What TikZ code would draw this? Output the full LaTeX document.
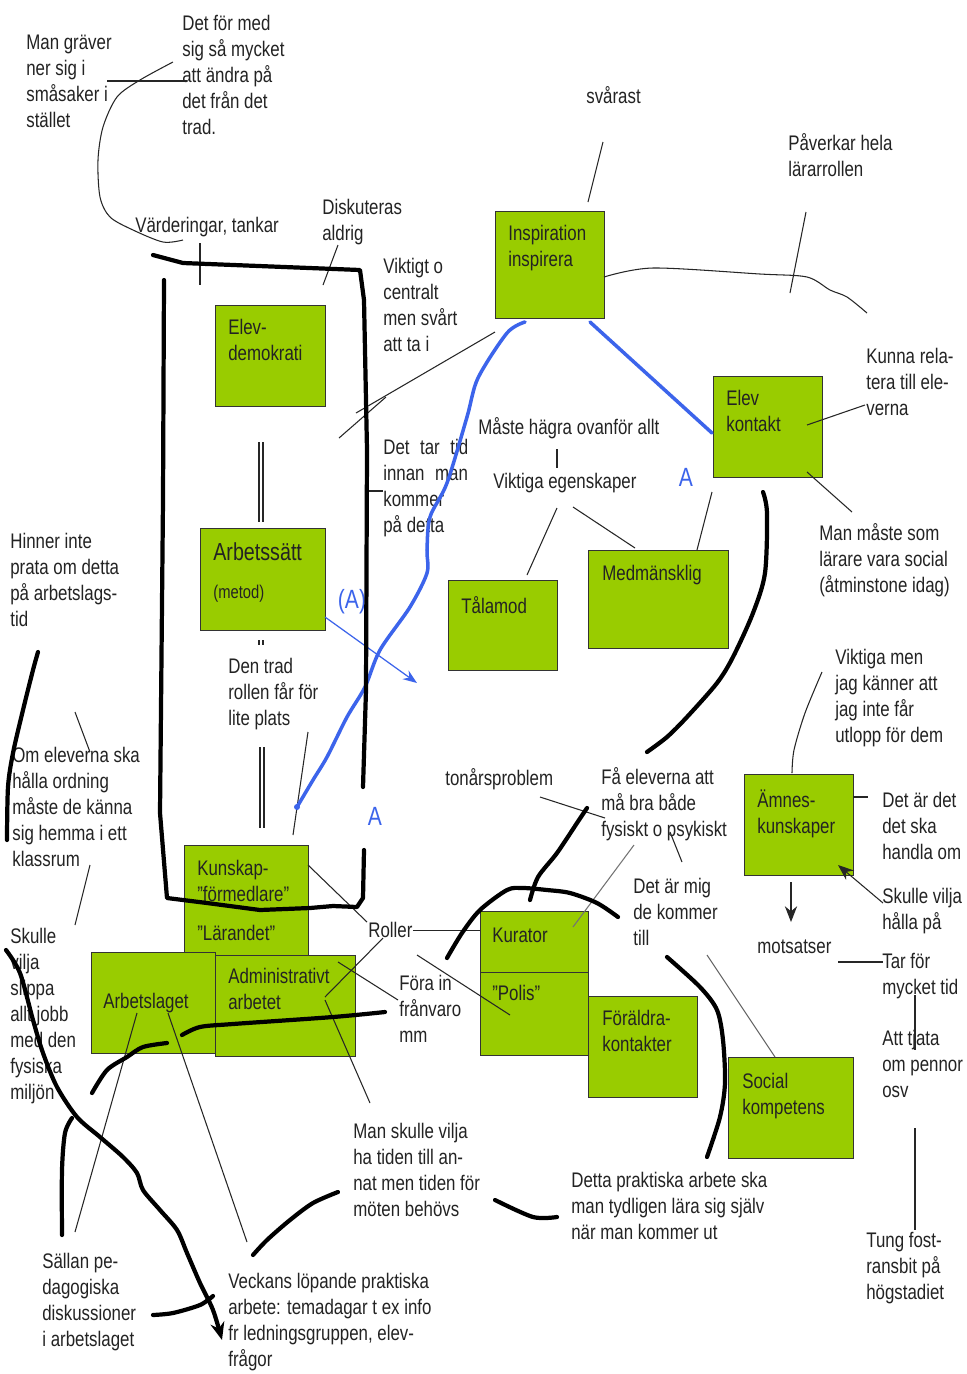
\documentclass[tikz,border=0pt]{standalone}
\usepackage{fontspec}
\setmainfont{Liberation Sans}[FakeStretch=0.8]
\usetikzlibrary{positioning, arrows.meta}

\definecolor{boxgreen}{RGB}{153,204,0}
\definecolor{penblue}{RGB}{60,100,235}
\definecolor{inkgray}{RGB}{35,35,35}
\newcommand{\lblfont}{\fontsize{12}{14.8}\selectfont}

\begin{document}
\begin{tikzpicture}[
    x=0.02cm, y=-0.02cm,
    gbox/.style={draw=black!80, fill=boxgreen, line width=0.6pt,
        anchor=north west, inner sep=0pt},
    note/.style={anchor=north west, inner sep=0pt, align=left,
        font=\lblfont, text=inkgray},
    bigA/.style={inner sep=0pt, text=penblue,
        font=\fontsize{15}{18}\selectfont},
    twig/.style={line width=0.6pt, draw=black!85},
    inkpen/.style={line width=2.4pt, draw=black, line cap=round, line join=round},
    bluepen/.style={line width=2pt, draw=penblue, line cap=round, line join=round}
]
\fill[white] (0,0) rectangle (967,1374);
\useasboundingbox (0,0) rectangle (967,1374);

% green boxes
\node[gbox, minimum width=2.2cm, minimum height=2.02cm] (elevdemo) at (215,305) {};
\node[gbox, minimum width=2.5cm, minimum height=2.04cm] (arbsatt) at (200,528) {};
\node[gbox, minimum width=2.18cm, minimum height=2.14cm] (inspir) at (495,211) {};
\node[gbox, minimum width=2.18cm, minimum height=2.02cm] (elevkon) at (713,376) {};
\node[gbox, minimum width=2.18cm, minimum height=1.8cm] (talamod) at (448,580) {};
\node[gbox, minimum width=2.8cm, minimum height=1.96cm] (medman) at (588,550) {};
\node[gbox, minimum width=2.18cm, minimum height=2.02cm] (amnes) at (744,774) {};
\node[gbox, minimum width=2.48cm, minimum height=2.2cm] (kunskap) at (184,845) {};
\node[gbox, minimum width=2.48cm, minimum height=2.02cm] (arblag) at (91,952) {};
\node[gbox, minimum width=2.8cm, minimum height=2.02cm] (admin) at (215,955) {};
\node[gbox, minimum width=2.16cm, minimum height=1.22cm] (kurator) at (480,911) {};
\node[gbox, minimum width=2.16cm, minimum height=1.66cm] (polis) at (480,972) {};
\node[gbox, minimum width=2.18cm, minimum height=2.02cm] (foralder) at (588,996) {};
\node[gbox, minimum width=2.5cm, minimum height=2.02cm] (social) at (728,1057) {};

% box texts
\node[note] (elevdemo-t) at ([shift={(13,14)}]elevdemo.north west) {Elev-\\demokrati};
\node[note, font=\fontsize{14}{17}\selectfont] (arbsatt-t) at ([shift={(13,14)}]arbsatt.north west) {Arbetssätt};
\node[note, font=\fontsize{10.5}{13}\selectfont] (metod-t) at ([shift={(13,57)}]arbsatt.north west) {(metod)};
\node[note] (inspir-t) at ([shift={(13,14)}]inspir.north west) {Inspiration\\inspirera};
\node[note] (elevkon-t) at ([shift={(13,14)}]elevkon.north west) {Elev\\kontakt};
\node[note] (talamod-t) at ([shift={(13,16)}]talamod.north west) {Tålamod};
\node[note] (medman-t) at ([shift={(14,15)}]medman.north west) {Medmänsklig};
\node[note] (amnes-t) at ([shift={(13,15)}]amnes.north west) {Ämnes-\\kunskaper};
\node[note] (kunskap-t) at ([shift={(13,15)}]kunskap.north west) {Kunskap-\\”förmedlare”};
\node[note] (larandet-t) at ([shift={(13,80)}]kunskap.north west) {”Lärandet”};
\node[note] (arblag-t) at ([shift={(12,41)}]arblag.north west) {Arbetslaget};
\node[note] (admin-t) at ([shift={(13,13)}]admin.north west) {Administrativt\\arbetet};
\node[note] (kurator-t) at ([shift={(12,17)}]kurator.north west) {Kurator};
\node[note] (polis-t) at ([shift={(12,13)}]polis.north west) {”Polis”};
\node[note] (foralder-t) at ([shift={(14,14)}]foralder.north west) {Föräldra-\\kontakter};
\node[note] (social-t) at ([shift={(14,16)}]social.north west) {Social\\kompetens};

% free notes
\node[note] (graver) at (26,35) {Man gräver\\ner sig i\\småsaker i\\stället};
\node[note] (formed) at (182,15) {Det för med\\sig så mycket\\att ändra på\\det från det\\trad.};
\node[note] (varde) at (135,217) {Värderingar, tankar};
\node[note] (diskut) at (322,199) {Diskuteras\\aldrig};
\node[note] (viktigt) at (383,258) {Viktigt o\\centralt\\men svårt\\att ta i};
\node[note] (tartid) at (383,439) {Det\enspace tar\enspace tid\\innan\enspace man\\kommer\\på detta};
\node[note] (dentrad) at (228,658) {Den trad\\rollen får för\\lite plats};
\node[note] (hinner) at (10,533) {Hinner inte\\prata om detta\\på arbetslags-\\tid};
\node[note] (omelev) at (12,747) {Om eleverna ska\\hålla ordning\\måste de känna\\sig hemma i ett\\klassrum};
\node[note] (slippa) at (10,928) {Skulle\\vilja\\slippa\\allt jobb\\med den\\fysiska\\miljön};
\node[note] (svarast) at (586,86) {svårast};
\node[note] (paverkar) at (788,133) {Påverkar hela\\lärarrollen};
\node[note] (kunna) at (866,348) {Kunna rela-\\tera till ele-\\verna};
\node[note] (massocial) at (819,523) {Man måste som\\lärare vara social\\(åtminstone idag)};
\node[note] (hagra) at (478,417) {Måste hägra ovanför allt};
\node[note] (egensk) at (493,473) {Viktiga egenskaper};
\node[note] (viktmen) at (835,649) {Viktiga men\\jag känner att\\jag inte får\\utlopp för dem};
\node[note] (handla) at (882,792) {Det är det\\det ska\\handla om};
\node[note] (hallapa) at (882,888) {Skulle vilja\\hålla på};
\node[note] (motsats) at (757,940) {motsatser};
\node[note] (tarfor) at (882,953) {Tar för\\mycket tid};
\node[note] (tjata) at (882,1030) {Att tjata\\om pennor\\osv};
\node[note] (tung) at (866,1232) {Tung fost-\\ransbit på\\högstadiet};
\node[note] (tonar) at (445,768) {tonårsproblem};
\node[note] (mabra) at (601,767) {Få eleverna att\\må bra både\\fysiskt o psykiskt};
\node[note] (detmig) at (633,878) {Det är mig\\de kommer\\till};
\node[note] (roller) at (368,922) {Roller};
\node[note] (forain) at (399,975) {Föra in\\frånvaro\\mm};
\node[note] (tidmoten) at (353,1123) {Man skulle vilja\\ha tiden till an-\\nat men tiden för\\möten behövs};
\node[note] (sallan) at (42,1253) {Sällan pe-\\dagogiska\\diskussioner\\i arbetslaget};
\node[note] (veckans) at (228,1273) {Veckans löpande praktiska\\arbete: temadagar t ex info\\fr ledningsgruppen, elev-\\frågor};
\node[note] (praktisk) at (571,1172) {Detta praktiska arbete ska\\man tydligen lära sig själv\\när man kommer ut};

% blue letters
\node[bigA] (aparen) at (352,602) {(A)};
\node[bigA] (aright) at (686,477) {A};
\node[bigA] (aleft) at (375,816) {A};

% thin connectors
\draw[twig] (107,81) -- (187,81);
\draw[twig] plot[smooth] coordinates {(173,62) (140,80) (117,97) (103,127) (98,160) (100,197) (110,217) (133,230) (163,242) (183,240)};
\draw[twig] (200,243) -- (200,285);
\draw[twig] (338,245) -- (323,285);
\draw[twig] (495,332) -- (356,413);
\draw[twig] (386,397) -- (339,438);
\draw[twig] (369,491) -- (383,491);
\draw[twig] (259,442) -- (259,522) (263,442) -- (263,522);
\draw[twig] (259,640) -- (259,645) (263,640) -- (263,645);
\draw[twig] (260,747) -- (260,828) (264,747) -- (264,828);
\draw[twig] (308,732) -- (293,835);
\draw[twig] (603,142) -- (588,202);
\draw[twig] plot[smooth] coordinates {(604,277) (653,268) (760,274) (807,277) (830,290) (847,297) (867,313)};
\draw[twig] (806,212) -- (790,293);
\draw[twig] (807,425) -- (865,405);
\draw[twig] (807,472) -- (852,512);
\draw[twig] (557,449) -- (557,468);
\draw[twig] (557,508) -- (527,575);
\draw[twig] (573,507) -- (635,548);
\draw[twig] (712,492) -- (697,550);
\draw[twig] plot[smooth] coordinates {(822,672) (805,713) (794,750) (792,773)};
\draw[twig] (853,797) -- (868,797);
\draw[twig, -{Stealth[length=9pt, width=7pt]}] (883,903) -- (838,865);
\draw[twig, -{Stealth[length=9pt, width=7pt]}] (791,882) -- (791,922);
\draw[twig] (838,962) -- (883,962);
\draw[twig] (915,995) -- (915,1050);
\draw[twig] (915,1128) -- (915,1230);
\draw[twig] (540,797) -- (605,818);
\draw[twig] (670,832) -- (682,862);
\draw[twig, draw=black!55] (634,845) -- (573,927);
\draw[twig, draw=black!60] (707,955) -- (775,1057);
\draw[twig] (roller.east) -- (kurator.west |- roller.east);
\draw[twig] (308,865) -- (367,922);
\draw[twig] (383,938) -- (325,997);
\draw[twig] (325,1000) -- (370,1103);
\draw[twig] (338,962) -- (398,1000);
\draw[twig] (417,955) -- (510,1015);
\draw[twig] (137,1013) -- (75,1232);
\draw[twig] (168,1013) -- (247,1242);
\draw[twig] (75,712) -- (90,752);
\draw[twig] (90,865) -- (75,925);

% blue pen
\draw[bluepen] plot[smooth] coordinates {(525,322) (507,333) (478,378) (467,417) (447,483) (430,517) (427,550) (427,573) (410,607) (380,650) (365,687) (347,717) (327,757) (313,780) (297,807)};
\fill[penblue] (297,807) circle (3);
\draw[bluepen] (590,322) -- (712,433);
\draw[line width=0.7pt, draw=penblue, -{Stealth[length=8pt, width=6pt]}] (325,617) -- (417,683);

% thick pen strokes
\draw[inkpen] (153,255) -- (183,263) -- (360,270) -- (364,300) -- (367,450) -- (366,690) -- (363,787);
\draw[inkpen] (364,850) -- (363,898) -- (357,907) -- (333,906) -- (310,908) -- (260,910) -- (207,903) -- (167,898) -- (160,813) -- (163,500) -- (164,280);
\draw[inkpen] plot[smooth] coordinates {(763,492) (767,513) (765,573) (753,613) (733,657) (717,683) (687,717) (667,737) (647,752)};
\draw[inkpen] plot[smooth] coordinates {(587,808) (577,823) (557,853) (538,877) (530,900)};
\draw[inkpen] plot[smooth] coordinates {(447,958) (462,933) (480,910) (507,890) (523,888) (547,890) (570,893) (597,903) (618,917)};
\draw[inkpen] plot[smooth] coordinates {(667,957) (700,987) (717,1010) (723,1040) (725,1083) (720,1117) (707,1157)};
\draw[inkpen] plot[smooth] coordinates {(495,1200) (533,1217) (557,1217)};
\draw[inkpen] plot[smooth] coordinates {(385,1012) (333,1017) (233,1024) (200,1027) (182,1035)};
\draw[inkpen] plot[smooth] coordinates {(167,1043) (143,1047) (127,1057) (107,1070) (92,1093)};
\draw[inkpen] plot[smooth] coordinates {(72,1118) (65,1133) (62,1170) (62,1235)};
\draw[inkpen] plot[smooth] coordinates {(338,1192) (313,1203) (290,1220) (267,1240) (253,1255)};
\draw[inkpen] plot[smooth] coordinates {(153,1315) (173,1313) (200,1305) (213,1296)};
\draw[inkpen] plot[smooth] coordinates {(38,652) (33,670) (23,710) (13,753) (8,787) (7,840)};
\draw[inkpen, -{Stealth[length=10pt, width=8pt]}] plot[smooth] coordinates {(6,950) (20,973) (33,1020) (43,1053) (57,1087) (77,1117) (100,1137) (123,1157) (137,1173) (143,1190) (160,1210) (177,1230) (187,1253) (200,1283) (213,1310) (222,1340)};

\end{tikzpicture}
\end{document}
